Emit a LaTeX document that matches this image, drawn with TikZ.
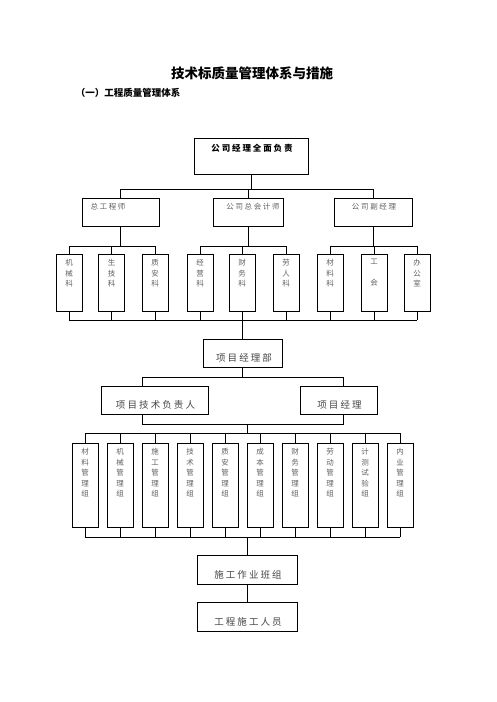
\documentclass[tikz,border=0pt]{standalone}
\usepackage{fontspec}
\setmainfont{Liberation Serif}
\newfontfamily\cjk{Noto Sans CJK SC}
\newfontfamily\cjkw[LetterSpace=22]{Noto Sans CJK SC}
\usetikzlibrary{calc}
\definecolor{txtgray}{gray}{0.38}

\begin{document}
\begin{tikzpicture}[x=1pt,y=-1pt,line width=0.9pt,
    orgbox/.style={draw,inner sep=0pt,outer sep=0pt},
    boxtext/.style={text=txtgray,inner sep=0pt,font=\cjkw\fontsize{7.5}{7.5}\selectfont},
    vtext/.style={text=txtgray,inner sep=0pt,align=center,font=\cjk\fontsize{7.5}{10.5}\selectfont},
    bigtext/.style={text=txtgray!70!black,inner sep=0pt,font=\cjkw\fontsize{9.5}{9.5}\selectfont}]
\useasboundingbox[fill=white] (0,0) rectangle (496,702);
% titles
\node[font=\cjk\bfseries\fontsize{13.5}{13.5}\selectfont] (title) at (252,73) {技术标质量管理体系与措施};
\node[anchor=west,font=\cjk\bfseries\fontsize{9.5}{9.5}\selectfont] (sub) at (72,93) {（一）工程质量管理体系};
% levels of the brackets
\coordinate (y0) at (0,189); \coordinate (ya) at (0,246); \coordinate (yb) at (0,320);
\coordinate (yc) at (0,377); \coordinate (yd) at (0,424); \coordinate (ye) at (0,433);
\coordinate (yf) at (0,537); \coordinate (tl) at (142,0); \coordinate (tr) at (343,0);
% company
\node[orgbox,minimum width=114pt,minimum height=36pt] (gm) at (251,156) {};
\node[font=\cjkw\bfseries\fontsize{8.5}{8.5}\selectfont,inner sep=0pt] (gmt) at (252,148) {公司经理全面负责};
\node[orgbox,minimum width=77pt,minimum height=28pt] (zg) at (120.5,212) {};
\node[orgbox,minimum width=70pt,minimum height=28pt] (kj) at (248,212) {};
\node[orgbox,minimum width=78pt,minimum height=28pt] (fj) at (373,212) {};
\node[boxtext] (zgt) at (108,207) {总工程师};
\node[boxtext] (kjt) at (253,207) {公司总会计师};
\node[boxtext] (fjt) at (374,207) {公司副经理};
\draw (gm.south) -- (gm.south |- y0);
\draw (zg.north) |- (fj.north |- y0) -- (fj.north);
\draw (kj.north) -- (kj.north |- y0);
% sections
\foreach \n/\x/\t in {k1/69/{机\\械\\科},k2/111.5/{生\\技\\科},k3/155/{质\\安\\科},
    k4/200/{经\\营\\科},k5/242/{财\\务\\科},k6/286/{劳\\人\\科},
    k7/330/{材\\料\\科},k8/374/{工\\[10.5pt]会},k9/417/{办\\公\\室}}{
  \node[orgbox,minimum width=26pt,minimum height=57pt] (\n) at (\x,282.5) {};
  \node[vtext,anchor=north] (\n-t) at ([yshift=-5pt]\n.north) {\t};
  \draw (\n.north) -- (\n.north |- ya);
  \draw (\n.south) -- (\n.south |- yb);
}
\draw (k1.north |- ya) -- (k3.north |- ya);
\draw (k4.north |- ya) -- (k6.north |- ya);
\draw (k7.north |- ya) -- (k9.north |- ya);
\draw (zg.south) -- (zg.south |- ya);
\draw (kj.south) -- (kj.south |- ya);
\draw (fj.south) -- (fj.south |- ya);
\draw (k1.south |- yb) -- (k9.south |- yb);
% project
\node[orgbox,minimum width=79pt,minimum height=28pt] (xm) at (242.5,353) {};
\node[bigtext] (xmt) at (244,358) {项目经理部};
\node[orgbox,minimum width=107pt,minimum height=28pt] (js) at (154.5,400) {};
\node[bigtext] (jst) at (155.5,405) {项目技术负责人};
\node[orgbox,minimum width=77pt,minimum height=28pt] (jl) at (338.5,400) {};
\node[bigtext] (jlt) at (339.5,405) {项目经理};
\draw (xm.north) -- (xm.north |- yb);
\draw (xm.south) -- (xm.south |- yc);
\draw (tl |- js.north) -- (tl |- yc) -- (tr |- yc) -- (tr |- jl.north);
\draw (tl |- js.south) -- (tl |- yd) -- (tr |- yd) -- (tr |- jl.south);
% groups
\foreach \t [count=\i] in {{材\\料\\管\\理\\组},{机\\械\\管\\理\\组},{施\\工\\管\\理\\组},
    {技\\术\\管\\理\\组},{质\\安\\管\\理\\组},{成\\本\\管\\理\\组},{财\\务\\管\\理\\组},
    {劳\\动\\管\\理\\组},{计\\测\\试\\验\\组},{内\\业\\管\\理\\组}}{
  \node[orgbox,minimum width=26pt,minimum height=84pt] (g\i) at ({85+35*(\i-1)},485) {};
  \node[vtext,anchor=north] (g\i-t) at ([yshift=-5pt]g\i.north) {\t};
  \draw (g\i.north) -- (g\i.north |- ye);
  \draw (g\i.south) -- (g\i.south |- yf);
}
\draw (g1.north |- ye) -- (g10.north |- ye);
\draw (g1.south |- yf) -- (g10.south |- yf);
% crews
\node[orgbox,minimum width=100pt,minimum height=29pt] (bz) at (247,569.5) {};
\node[bigtext] (bzt) at (248,575) {施工作业班组};
\node[orgbox,minimum width=100pt,minimum height=29pt] (ry) at (247,616.5) {};
\node[bigtext] (ryt) at (248,622) {工程施工人员};
\draw (bz.north |- yd) -- (bz.north |- ye);
\draw (bz.north) -- (bz.north |- yf);
\draw (bz.south) -- (ry.north);
\end{tikzpicture}
\end{document}
